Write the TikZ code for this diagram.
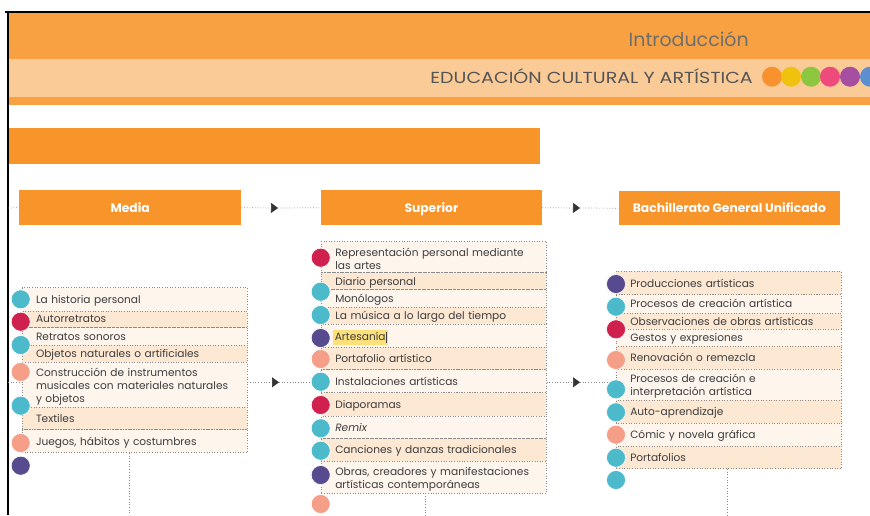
\documentclass[tikz,border=0pt]{standalone}
\usepackage{fontspec}
\usepackage{graphicx}
\setmainfont{Poppins}
\usetikzlibrary{arrows.meta}
\definecolor{bandor}{HTML}{F8A142}
\definecolor{boxor}{HTML}{F7952B}
\definecolor{rowlight}{HTML}{FEF5ED}
\definecolor{rowtan}{HTML}{FDE8D3}
\definecolor{cteal}{HTML}{4DBACC}
\definecolor{ccrim}{HTML}{D0214E}
\definecolor{csalm}{HTML}{F59E88}
\definecolor{cpurp}{HTML}{574A8E}
\definecolor{txt}{HTML}{3D3D3D}
\definecolor{dotc}{HTML}{8A8A8A}
\definecolor{tipc}{HTML}{333333}
\definecolor{introgray}{HTML}{6E6E6E}
\definecolor{edugray}{HTML}{555555}
\definecolor{hly}{HTML}{FBE07C}
\definecolor{hdor}{HTML}{F7922F}
\definecolor{hdye}{HTML}{F0C20E}
\definecolor{hdgr}{HTML}{8DC63F}
\definecolor{hdpk}{HTML}{EE4A7B}
\definecolor{hdpu}{HTML}{A64E9F}
\definecolor{hdbl}{HTML}{5B8FD0}
\newcommand\firststrut{\rule{0pt}{11.8pt}}
\begin{document}
\begin{tikzpicture}[x=1pt,y=-1pt,
  rowst/.style={draw=dotc, dotted, line width=0.6pt, inner xsep=14pt, inner ysep=0pt,
    text width=197pt, align=left, anchor=north west, text=txt, text depth=0pt,
    font=\fontsize{10.6}{13}\selectfont},
  ml/.style={text depth={}},
  lt/.style={rowst, fill=rowlight},
  tn/.style={rowst, fill=rowtan},
  dot/.style={circle, minimum size=19pt, inner sep=0pt, draw=white, line width=0.6pt},
  hdot/.style={circle, minimum size=20pt, inner sep=0pt},
  headbox/.style={fill=boxor, text=white, anchor=north west, inner sep=0pt,
    text height=8.8pt, text depth=0pt, font=\fontsize{12.3}{14}\selectfont\bfseries},
  dotline/.style={dotc, dotted, line width=0.7pt},
  tipped/.style={dotline, -{Triangle[length=7pt,width=10pt,color=tipc]}}
]
\useasboundingbox (0,0) rectangle (870,515);
\fill[white] (0,0) rectangle (870,515);

% header band
\fill[bandor] (9,12.5) rectangle (870,105);
\fill[white, opacity=0.45] (9,59.3) rectangle (870,96.5);
\node[anchor=base east, text=introgray, font=\fontsize{19}{19}\selectfont, inner sep=0pt] (intro) at (749,46.5) {Introducción};
\node[anchor=base east, text=edugray, font=\fontsize{16}{16}\selectfont, inner sep=0pt] (edu) at (753,83.3) {\scalebox{1.19}[1]{EDUCACIÓN CULTURAL Y ARTÍSTICA}};
\node[hdot, fill=hdor] (h1) at (772,76.7) {};
\node[hdot, fill=hdye] (h2) at (791,76.7) {};
\node[hdot, fill=hdgr] (h3) at (811,76.7) {};
\node[hdot, fill=hdpk] (h4) at (830,76.7) {};
\node[hdot, fill=hdpu] (h5) at (850,76.7) {};
\node[hdot, fill=hdbl] (h6) at (870,76.7) {};

% frame lines
\coordinate (fTL) at (5,12);
\coordinate (fTR) at (870,12);
\coordinate (fL) at (8,12);
\coordinate (fB) at (8,515);
\draw[black, line width=1.6pt] (fTL) -- (fTR);
\draw[black, line width=1.6pt] (fL) -- (fB);

% orange bar
\fill[boxor] (9,128) rectangle (540,163.5);

% stage headers
\node[headbox, minimum width=222pt, minimum height=35pt] (media) at (19,190) {Media};
\node[headbox, minimum width=221pt, minimum height=35pt] (superior) at (320.7,190) {Superior};
\node[headbox, minimum width=221.7pt, minimum height=34pt] (bach) at (618.3,191) {Bachillerato General Unificado};

% Media list
\node[lt, minimum height=23.4pt] (m1) at (21.7,287.3) {La historia personal};
\node[tn, minimum height=16.6pt] (m2) at (21.7,310.7) {Autorretratos};
\node[lt, minimum height=17.4pt] (m3) at (21.7,327.3) {Retratos sonoros};
\node[tn, minimum height=17pt] (m4) at (21.7,344.7) {Objetos naturales o artificiales};
\node[lt, ml, minimum height=45pt] (m5) at (21.7,361.7) {\firststrut Construcción de instrumentos\\musicales con materiales naturales\\y objetos};
\node[tn, minimum height=22.6pt] (m6) at (21.7,406.7) {Textiles};
\node[lt, minimum height=23pt] (m7) at (21.7,429.3) {Juegos, hábitos y costumbres};

% Superior list
\node[lt, ml, minimum height=31.3pt] (s1) at (321,241) {\firststrut Representación personal mediante\\las artes};
\node[tn, minimum height=17pt] (s2) at (321,272.3) {Diario personal};
\node[lt, minimum height=17.4pt] (s3) at (321,289.3) {Monólogos};
\node[tn, minimum height=17.3pt] (s4) at (321,306.7) {La música a lo largo del tiempo};
\node[lt, minimum height=22.7pt] (s5) at (321,324) {\hspace*{-2pt}{\fboxsep=1.5pt\colorbox{hly}{Artesanía\rule[-2.5pt]{0.6pt}{11.5pt}}}};
\node[tn, minimum height=22.6pt] (s6) at (321,346.7) {Portafolio artístico};
\node[lt, minimum height=23pt] (s7) at (321,369.3) {Instalaciones artísticas};
\node[tn, minimum height=23.4pt] (s8) at (321,392.3) {Diaporamas};
\node[lt, minimum height=22.6pt] (s9) at (321,415.7) {\itshape Remix};
\node[tn, minimum height=22.7pt] (s10) at (321,438.3) {Canciones y danzas tradicionales};
\node[lt, ml, minimum height=31.7pt] (s11) at (321,461) {\firststrut Obras, creadores y manifestaciones\\artísticas contemporáneas};

% Bachillerato list
\node[tn, minimum height=23.3pt] (b1) at (616,271) {Producciones artísticas};
\node[lt, minimum height=18.4pt] (b2) at (616,294.3) {Procesos de creación artística};
\node[tn, minimum height=16.3pt] (b3) at (616,312.7) {Observaciones de obras artísticas};
\node[lt, minimum height=17pt] (b4) at (616,329) {Gestos y expresiones};
\node[tn, minimum height=23pt] (b5) at (616,346) {Renovación o remezcla};
\node[lt, ml, minimum height=31pt] (b6) at (616,369) {\firststrut Procesos de creación e\\interpretación artística};
\node[tn, minimum height=22.7pt] (b7) at (616,400) {Auto-aprendizaje};
\node[lt, minimum height=23pt] (b8) at (616,422.7) {Cómic y novela gráfica};
\node[tn, minimum height=22.6pt] (b9) at (616,445.7) {Portafolios};

% connectors: header row
\coordinate (hrow) at (0,208);
\coordinate (ha1) at (278,208);
\coordinate (ha2) at (580,208);
\draw[dotline] (fL |- hrow) -- (media.west);
\draw[tipped] (media.east) -- (ha1);
\draw[dotline] (ha1) -- (superior.west);
\draw[tipped] (superior.east) -- (ha2);
\draw[dotline] (ha2) -- (bach.west);

% connectors: list row
\coordinate (lrow) at (0,382.3);
\coordinate (la1) at (279,382.3);
\coordinate (la2) at (580,382.3);
\draw[dotline] (fL |- lrow) -- (m5.west |- lrow);
\draw[tipped] (m5.east |- lrow) -- (la1);
\draw[dotline] (la1) -- (s7.west |- lrow);
\draw[tipped] (s7.east |- lrow) -- (la2);
\draw[dotline] (la2) -- (b6.west |- lrow);

% drops
\coordinate (md) at (129,515);
\coordinate (sd) at (425,515);
\coordinate (bd) at (727.7,515);
\draw[dotline] (m7.south -| md) -- (md);
\draw[dotline] (s11.south -| sd) -- (sd);
\draw[dotline] (b9.south -| bd) -- (bd);

% Media circles
\node[dot, fill=cteal] (mc1) at (20.7,299.3) {};
\node[dot, fill=ccrim] (mc2) at (20.7,321.7) {};
\node[dot, fill=cteal] (mc3) at (20.7,345) {};
\node[dot, fill=csalm] (mc4) at (20.7,372) {};
\node[dot, fill=cteal] (mc5) at (20.7,405.7) {};
\node[dot, fill=csalm] (mc6) at (20.7,443) {};
\node[dot, fill=cpurp] (mc7) at (20.7,465.7) {};

% Superior circles
\node[dot, fill=ccrim] (sc1) at (320.7,257.7) {};
\node[dot, fill=cteal] (sc2) at (320.7,291.7) {};
\node[dot, fill=cteal] (sc3) at (320.7,315) {};
\node[dot, fill=cpurp] (sc4) at (320.7,338) {};
\node[dot, fill=csalm] (sc5) at (320.7,359) {};
\node[dot, fill=cteal] (sc6) at (320.7,381.7) {};
\node[dot, fill=ccrim] (sc7) at (320.7,405) {};
\node[dot, fill=cteal] (sc8) at (320.7,428.3) {};
\node[dot, fill=cteal] (sc9) at (320.7,450.7) {};
\node[dot, fill=cpurp] (sc10) at (320.7,475) {};
\node[dot, fill=csalm] (sc11) at (320.7,504) {};

% Bachillerato circles
\node[dot, fill=cpurp] (bc1) at (616,284) {};
\node[dot, fill=cteal] (bc2) at (616,306.7) {};
\node[dot, fill=ccrim] (bc3) at (616,329.3) {};
\node[dot, fill=csalm] (bc4) at (616,360) {};
\node[dot, fill=cteal] (bc5) at (616,389.3) {};
\node[dot, fill=cteal] (bc6) at (616,412.3) {};
\node[dot, fill=csalm] (bc7) at (616,434.7) {};
\node[dot, fill=cteal] (bc8) at (616,457.7) {};
\node[dot, fill=cteal] (bc9) at (616,480) {};
\end{tikzpicture}
\end{document}
